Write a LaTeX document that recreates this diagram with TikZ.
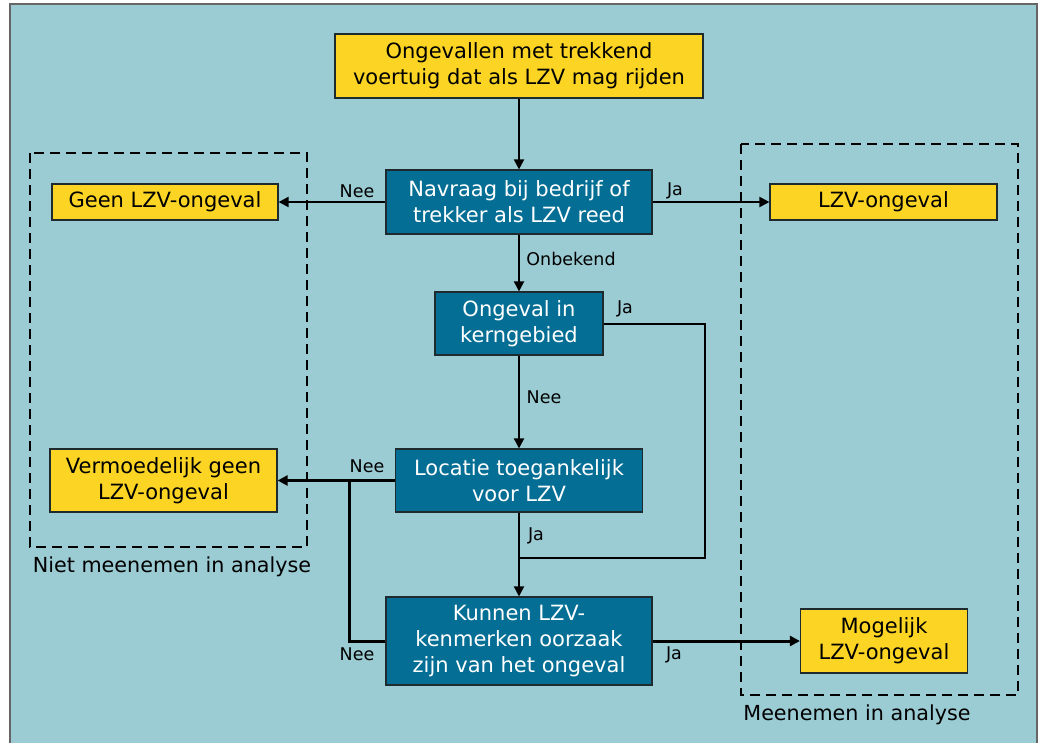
\documentclass[tikz,border=0pt]{standalone}
\usepackage{fontspec}
\setmainfont{DejaVu Sans}
\usetikzlibrary{arrows.meta}
\definecolor{bgc}{HTML}{9BCBD3}
\definecolor{yelc}{HTML}{FBD424}
\definecolor{bluc}{HTML}{046E95}
\definecolor{edgec}{HTML}{1E2A2E}
\tikzset{
  box/.style={draw=edgec, line width=1.2pt, inner sep=0pt, align=center, font=\fontsize{21}{26}\selectfont},
  yel/.style={box, fill=yelc, text=black},
  blu/.style={box, fill=bluc, text=white},
  conn/.style={line width=2pt, draw=black},
  arr/.style={conn, -{Triangle[length=10pt,width=10pt]}},
  thk/.style={line width=3pt},
  lbl/.style={font=\fontsize{17.5}{20}\selectfont, inner sep=0pt},
  grp/.style={draw=black, line width=2.5pt, dash pattern=on 10pt off 6pt},
  grpcap/.style={font=\fontsize{20.7}{24}\selectfont, inner sep=0pt}
}
\begin{document}
\begin{tikzpicture}[x=1pt,y=-1pt]
\useasboundingbox (0,0) rectangle (1040,742);
\fill[white] (0,0) rectangle (1040,742);
\filldraw[fill=bgc, draw=gray!80!black, line width=1.5pt] (10,4) rectangle (1037,745);
% groups
\draw[grp] (30,153) rectangle (307,547);
\draw[grp] (741,144) rectangle (1018,695);
\node[grpcap] (capL) at (172,567) {Niet meenemen in analyse};
\node[grpcap] (capR) at (857,715) {Meenemen in analyse};
% nodes
\node[yel, minimum width=368pt, minimum height=64pt] (top) at (519,66) {Ongevallen met trekkend\\voertuig dat als LZV mag rijden};
\node[blu, minimum width=266pt, minimum height=64pt] (nav) at (519,202) {Navraag bij bedrijf of\\trekker als LZV reed};
\node[yel, minimum width=226pt, minimum height=36pt] (geen) at (165,202) {Geen LZV-ongeval};
\node[yel, minimum width=227pt, minimum height=36pt] (lzv) at (883.5,202) {LZV-ongeval};
\node[blu, minimum width=168pt, minimum height=63pt] (kern) at (519,323.5) {Ongeval in\\kerngebied};
\node[blu, minimum width=247pt, minimum height=63pt] (loc) at (519,480.5) {Locatie toegankelijk\\voor LZV};
\node[yel, minimum width=227pt, minimum height=63pt] (verm) at (163.5,480.5) {Vermoedelijk geen\\LZV-ongeval};
\node[blu, minimum width=266pt, minimum height=88pt] (kun) at (519,641) {Kunnen LZV-\\kenmerken oorzaak\\zijn van het ongeval};
\node[yel, minimum width=167pt, minimum height=64pt] (mog) at (884,641) {Mogelijk\\LZV-ongeval};
% connectors
\draw[arr] (top) -- (nav);
\draw[arr] (nav) -- (geen);
\node[lbl] (l1) at (357,191) {Nee};
\draw[arr] (nav) -- (lzv);
\node[lbl] (l2) at (675,191) {Ja};
\draw[arr] (nav) -- (kern);
\node[lbl] (l3) at (571,259) {Onbekend};
\draw[arr] (kern) -- (loc);
\node[lbl] (l4) at (544,397) {Nee};
\coordinate (jR) at (705,558);
\coordinate (jM) at (519,558);
\draw[conn] (kern.east) -| (jR) -- (jM);
\node[lbl] (l5) at (625,309) {Ja};
\draw[arr] (loc) -- (kun);
\node[lbl] (l6) at (536,536) {Ja};
\draw[arr, thk] (loc) -- (verm);
\node[lbl] (l7) at (367,466) {Nee};
\coordinate (jL) at (349,480.5);
\draw[conn, thk] (kun.west) -| (jL);
\node[lbl] (l8) at (357,654) {Nee};
\draw[arr, thk] (kun) -- (mog);
\node[lbl] (l9) at (674,655) {Ja};
\end{tikzpicture}
\end{document}
